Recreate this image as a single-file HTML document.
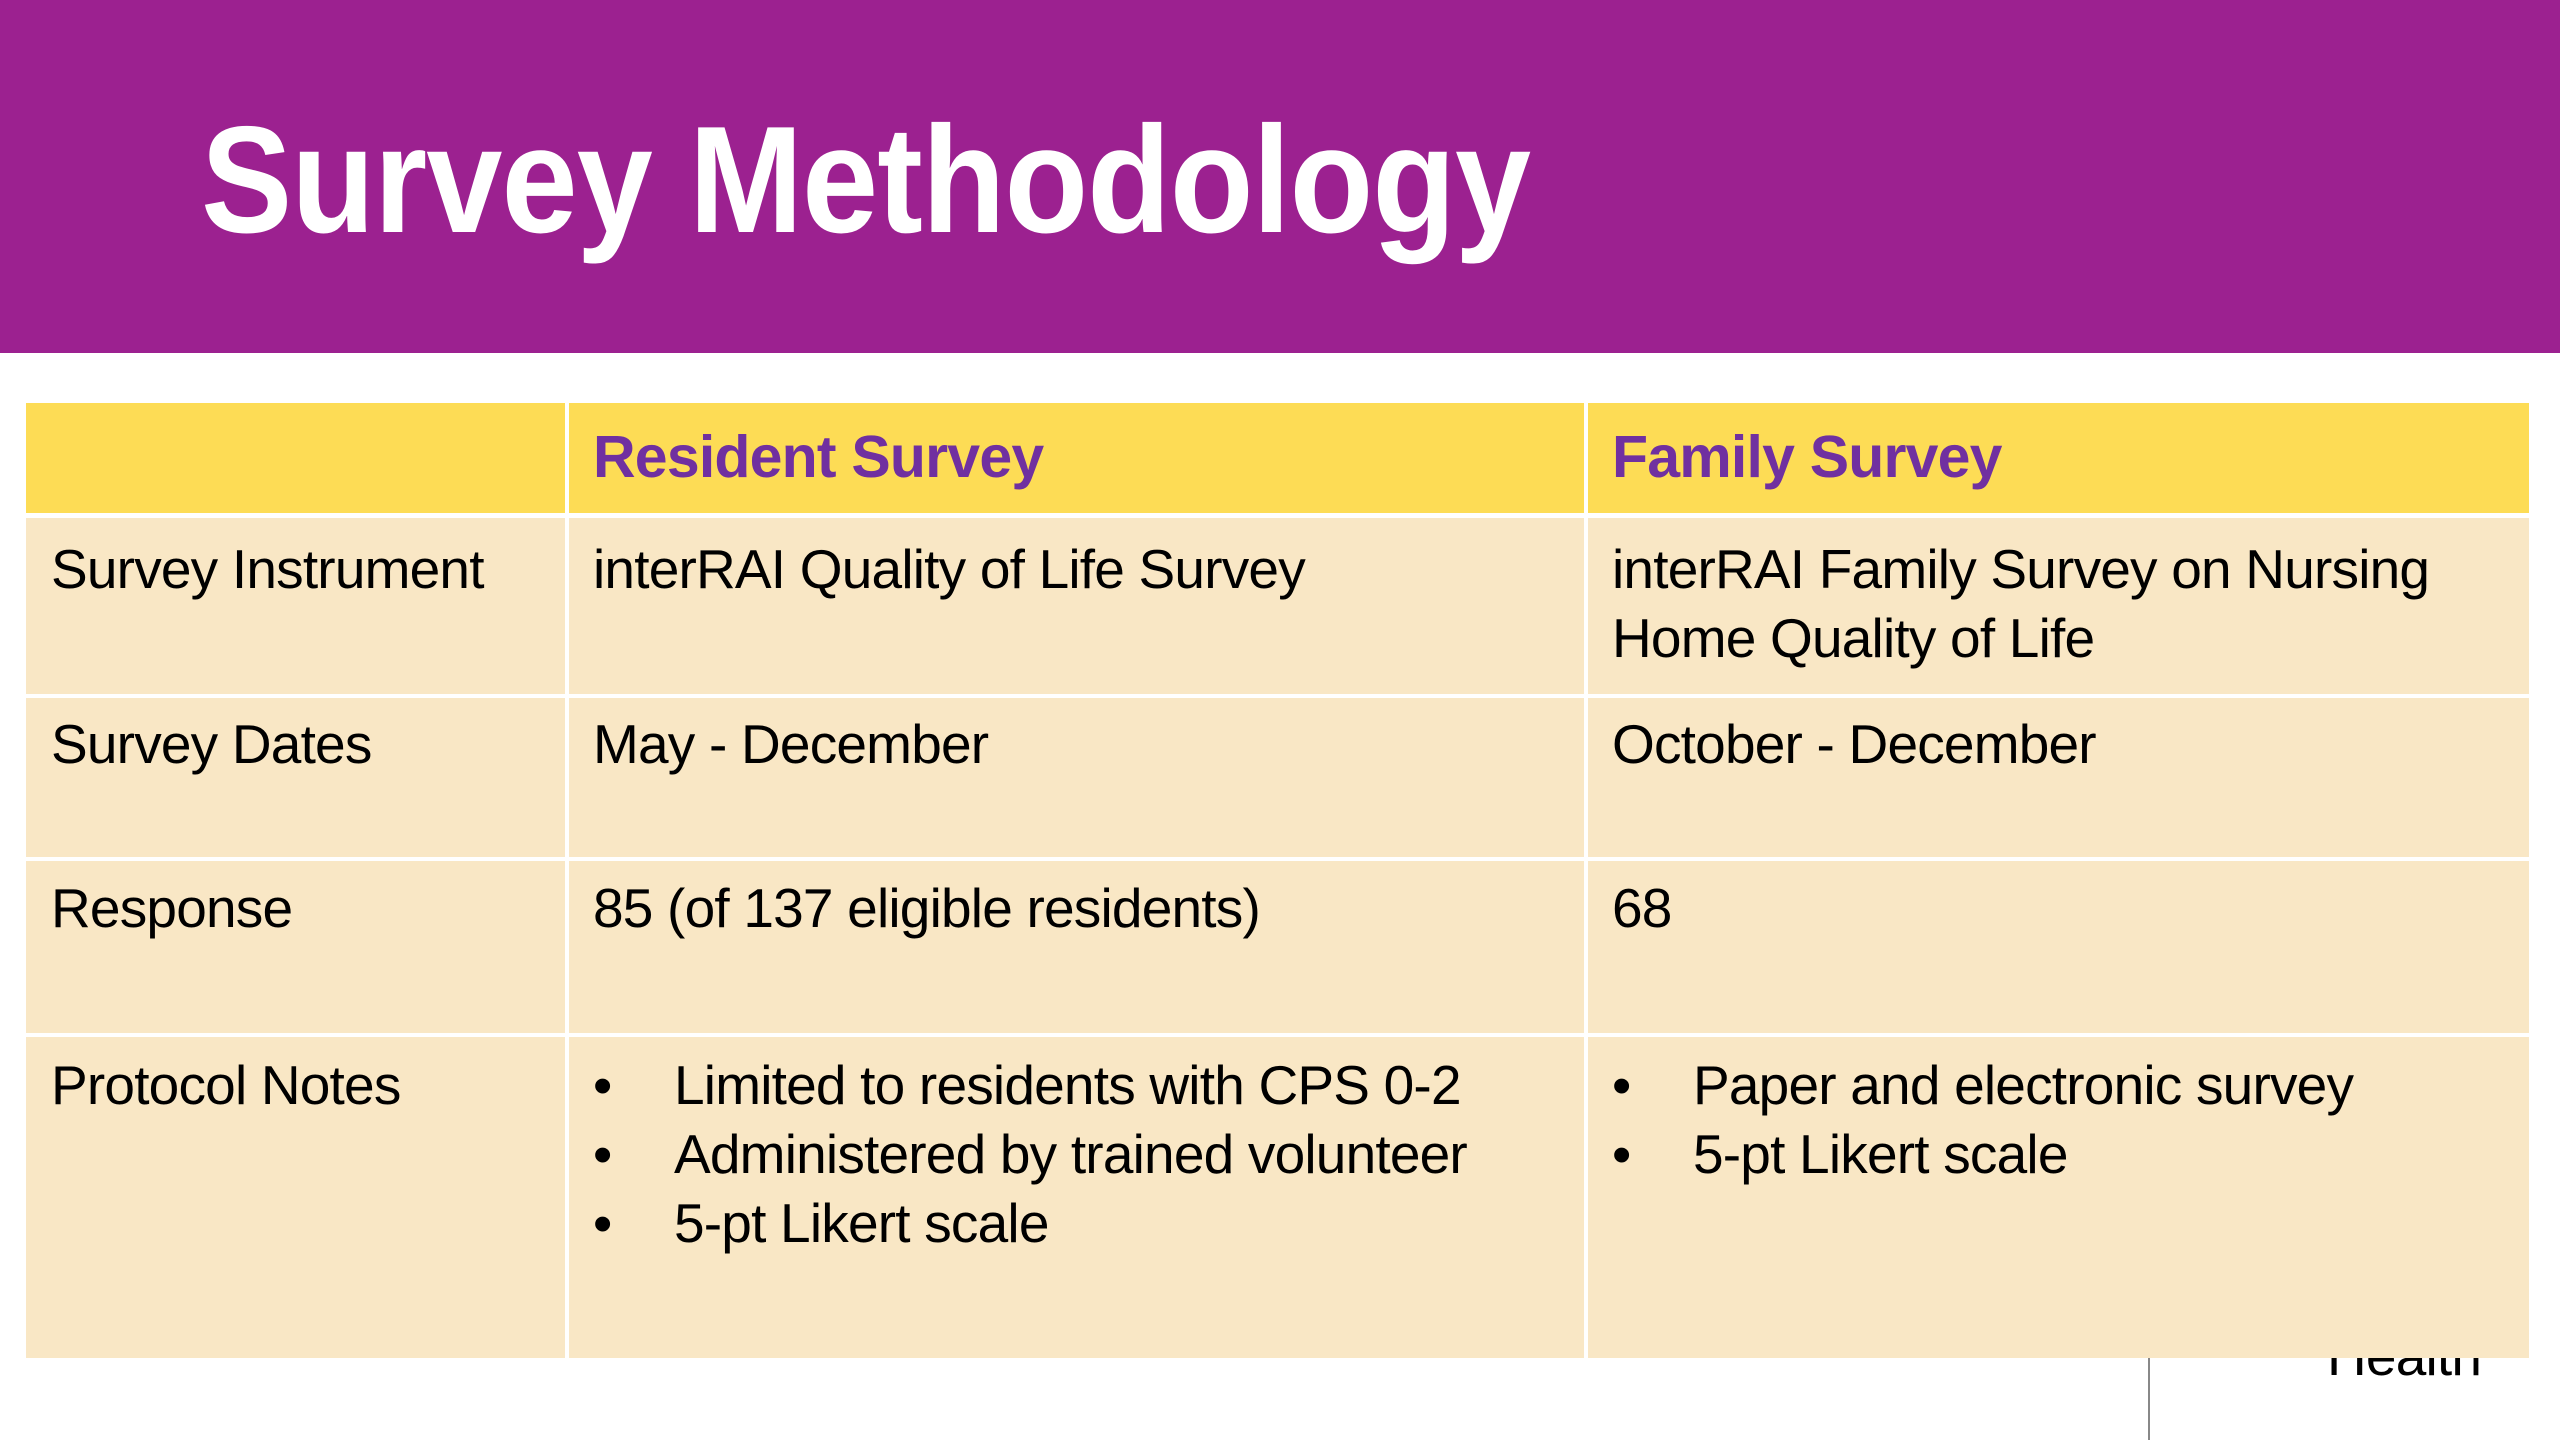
<!DOCTYPE html>
<html><head><meta charset="utf-8"><style>
html,body{margin:0;padding:0}
body{width:2560px;height:1440px;position:relative;overflow:hidden;background:#fff;font-family:"Liberation Sans",Arial,sans-serif}
.hdr{position:absolute;left:0;top:0;width:2560px;height:353px;background:#9C2190}
.title{position:absolute;left:201px;top:90px;font-size:152px;line-height:180px;font-weight:bold;color:#fff;white-space:nowrap;transform:scaleX(0.9);transform-origin:left top;letter-spacing:-1px}
.cell{position:absolute}
.y{background:#FDDC55}.b{background:#F9E7C5}
.t{position:absolute;font-size:55px;line-height:69px;color:#000;white-space:nowrap;letter-spacing:-0.8px}
.h{position:absolute;font-size:59px;line-height:69px;font-weight:bold;color:#7030A0;white-space:nowrap;letter-spacing:-0.8px}
</style></head><body>
<div class="hdr"></div>
<div class="title">Survey Methodology</div>

<div class="t" style="left:2327px;top:1322px;z-index:0">Health</div>
<div style="position:absolute;left:2148px;top:1358px;width:2px;height:82px;background:#888"></div>

<div style="position:absolute;left:0;top:0;z-index:1">
<div class="cell y" style="left:26px;top:403px;width:539px;height:110px"></div>
<div class="cell y" style="left:569px;top:403px;width:1015px;height:110px"></div>
<div class="cell y" style="left:1588px;top:403px;width:941px;height:110px"></div>

<div class="cell b" style="left:26px;top:518px;width:539px;height:176px"></div>
<div class="cell b" style="left:569px;top:518px;width:1015px;height:176px"></div>
<div class="cell b" style="left:1588px;top:518px;width:941px;height:176px"></div>

<div class="cell b" style="left:26px;top:698px;width:539px;height:159px"></div>
<div class="cell b" style="left:569px;top:698px;width:1015px;height:159px"></div>
<div class="cell b" style="left:1588px;top:698px;width:941px;height:159px"></div>

<div class="cell b" style="left:26px;top:861px;width:539px;height:172px"></div>
<div class="cell b" style="left:569px;top:861px;width:1015px;height:172px"></div>
<div class="cell b" style="left:1588px;top:861px;width:941px;height:172px"></div>

<div class="cell b" style="left:26px;top:1037px;width:539px;height:321px"></div>
<div class="cell b" style="left:569px;top:1037px;width:1015px;height:321px"></div>
<div class="cell b" style="left:1588px;top:1037px;width:941px;height:321px"></div>

<div class="h" style="left:593px;top:423px">Resident Survey</div>
<div class="h" style="left:1612px;top:423px">Family Survey</div>

<div class="t" style="left:51px;top:535px">Survey Instrument</div>
<div class="t" style="left:593px;top:535px">interRAI Quality of Life Survey</div>
<div class="t" style="left:1612px;top:535px">interRAI Family Survey on Nursing<br>Home Quality of Life</div>

<div class="t" style="left:51px;top:710px">Survey Dates</div>
<div class="t" style="left:593px;top:710px">May - December</div>
<div class="t" style="left:1612px;top:710px">October - December</div>

<div class="t" style="left:51px;top:874px">Response</div>
<div class="t" style="left:593px;top:874px">85 (of 137 eligible residents)</div>
<div class="t" style="left:1612px;top:874px">68</div>

<div class="t" style="left:51px;top:1051px">Protocol Notes</div>
<div class="t" style="left:593px;top:1051px">•<br>•<br>•</div>
<div class="t" style="left:674px;top:1051px">Limited to residents with CPS 0-2<br>Administered by trained volunteer<br>5-pt Likert scale</div>
<div class="t" style="left:1612px;top:1051px">•<br>•</div>
<div class="t" style="left:1693px;top:1051px">Paper and electronic survey<br>5-pt Likert scale</div>
</div>
</body></html>
